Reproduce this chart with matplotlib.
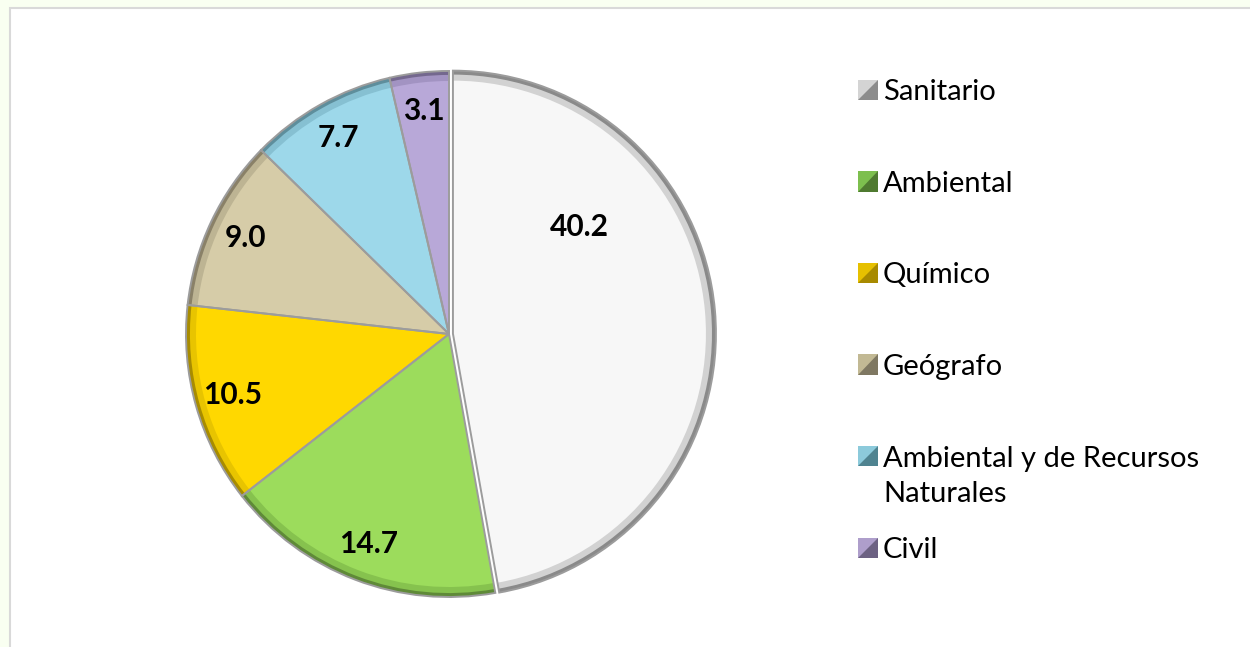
import matplotlib
matplotlib.use("Agg")
import numpy as np
import matplotlib.pyplot as plt
from matplotlib.patches import Rectangle, Polygon, Patch
from matplotlib.legend_handler import HandlerBase

# ---------------- data ----------------
categories = ["Sanitario", "Ambiental", "Químico", "Geógrafo",
              "Ambiental y de Recursos\nNaturales", "Civil"]
values = [40.2, 14.7, 10.5, 9.0, 7.7, 3.1]
value_labels = ["40.2", "14.7", "10.5", "9.0", "7.7", "3.1"]

# ---------------- style ----------------
face_colors = ["#F7F7F7", "#9CDC5C", "#FFD800", "#D6CCA8", "#9DD8EA", "#B8A8D8"]
mid_colors = ["#D2D2D2", "#86C24E", "#E8C400", "#BDB493", "#86C0D2", "#A293C2"]
rim_colors = ["#8A8A8A", "#5F8A38", "#A88C00", "#8A8168", "#5E8E9C", "#74688E"]
legend_light = ["#D4D4D4", "#7DBF4E", "#E6C000", "#C2B994", "#8CCADB", "#AE9ECB"]
legend_dark = ["#8C8C8C", "#4F7A30", "#A88A00", "#7F7862", "#4F8390", "#6C6182"]

plt.rcParams['font.family'] = ['Lato', 'DejaVu Sans']

W, H = 1250, 647
fig = plt.figure(figsize=(W / 100, H / 100), dpi=100, facecolor="#F9FFF1")

# white chart area with light grey border
fig.add_artist(Rectangle((10 / W, -0.05), 1.1, (H - 8) / H + 0.05,
                         transform=fig.transFigure, facecolor="white",
                         edgecolor="#D9D9D9", linewidth=1.5, zorder=-10))

# pie axes (centre ~ (449, 334) px, radius ~263 px)
cx, cy, R = 449, H - 334, 263
S = 2 * R * 1.1
ax = fig.add_axes([(cx - S / 2) / W, (cy - S / 2) / H, S / W, S / H])

explode = [0.015, 0, 0, 0, 0, 0]
common = dict(startangle=90, counterclock=False, explode=explode)
ax.pie(values, colors=rim_colors, radius=1.0,
       wedgeprops=dict(edgecolor="none"), **common)
ax.pie(values, colors=mid_colors, radius=0.985,
       wedgeprops=dict(edgecolor="none"), **common)
wedges, _ = ax.pie(values, colors=face_colors, radius=0.962,
                   wedgeprops=dict(edgecolor="none"), **common)
ax.pie(values, colors=["none"] * len(values), radius=1.0,
       wedgeprops=dict(edgecolor="#9C9C9C", linewidth=1.4, fill=False), **common)

ax.set_xlim(-1.1, 1.1)
ax.set_ylim(-1.1, 1.1)
ax.axis("off")

# data labels (Excel "best fit": largest slice label moved)
label_r = 0.855
label_override = {0: (40.0, 0.63)}
for i, w in enumerate(wedges):
    ang = 0.5 * (w.theta1 + w.theta2)
    r = label_r
    if i in label_override:
        ang, r = label_override[i]
    x0, y0 = w.center
    ax.text(x0 + r * np.cos(np.radians(ang)), y0 + r * np.sin(np.radians(ang)),
            value_labels[i], ha="center", va="center", fontsize=21.5,
            fontweight="bold", color="black")


# legend with bevelled square markers
class BevelHandler(HandlerBase):
    def __init__(self, light, dark, dy=0.0):
        super().__init__()
        self.light, self.dark, self.dy = light, dark, dy

    def create_artists(self, legend, orig_handle, xdescent, ydescent,
                       width, height, fontsize, trans):
        x0, y0 = -xdescent, -ydescent + self.dy * fontsize
        sq = Rectangle((x0, y0), width, height, facecolor=self.light,
                       edgecolor="none", transform=trans)
        tri = Polygon([(x0, y0), (x0 + width, y0), (x0 + width, y0 + height)],
                      closed=True, facecolor=self.dark, edgecolor="none",
                      transform=trans)
        return [sq, tri]


handles = [Patch(facecolor=c) for c in face_colors]
hmap = {}
for i, h in enumerate(handles):
    dy = 0.70 if "\n" in categories[i] else 0.0
    hmap[h] = BevelHandler(legend_light[i], legend_dark[i], dy)

leg_kw = dict(loc="upper left", frameon=False, fontsize=21, borderpad=0,
              borderaxespad=0, handlelength=0.7, handleheight=0.7,
              handletextpad=0.16, handler_map=hmap)
leg1 = fig.legend(handles[:5], categories[:5], bbox_to_anchor=(858 / W, (H - 79) / H),
                  labelspacing=2.25, **leg_kw)
for t in leg1.get_texts():
    t.set_linespacing(1.45)
leg2 = fig.legend(handles[5:], categories[5:], bbox_to_anchor=(858 / W, (H - 537) / H),
                  **leg_kw)

fig.savefig("out.png", dpi=100, facecolor=fig.get_facecolor())
